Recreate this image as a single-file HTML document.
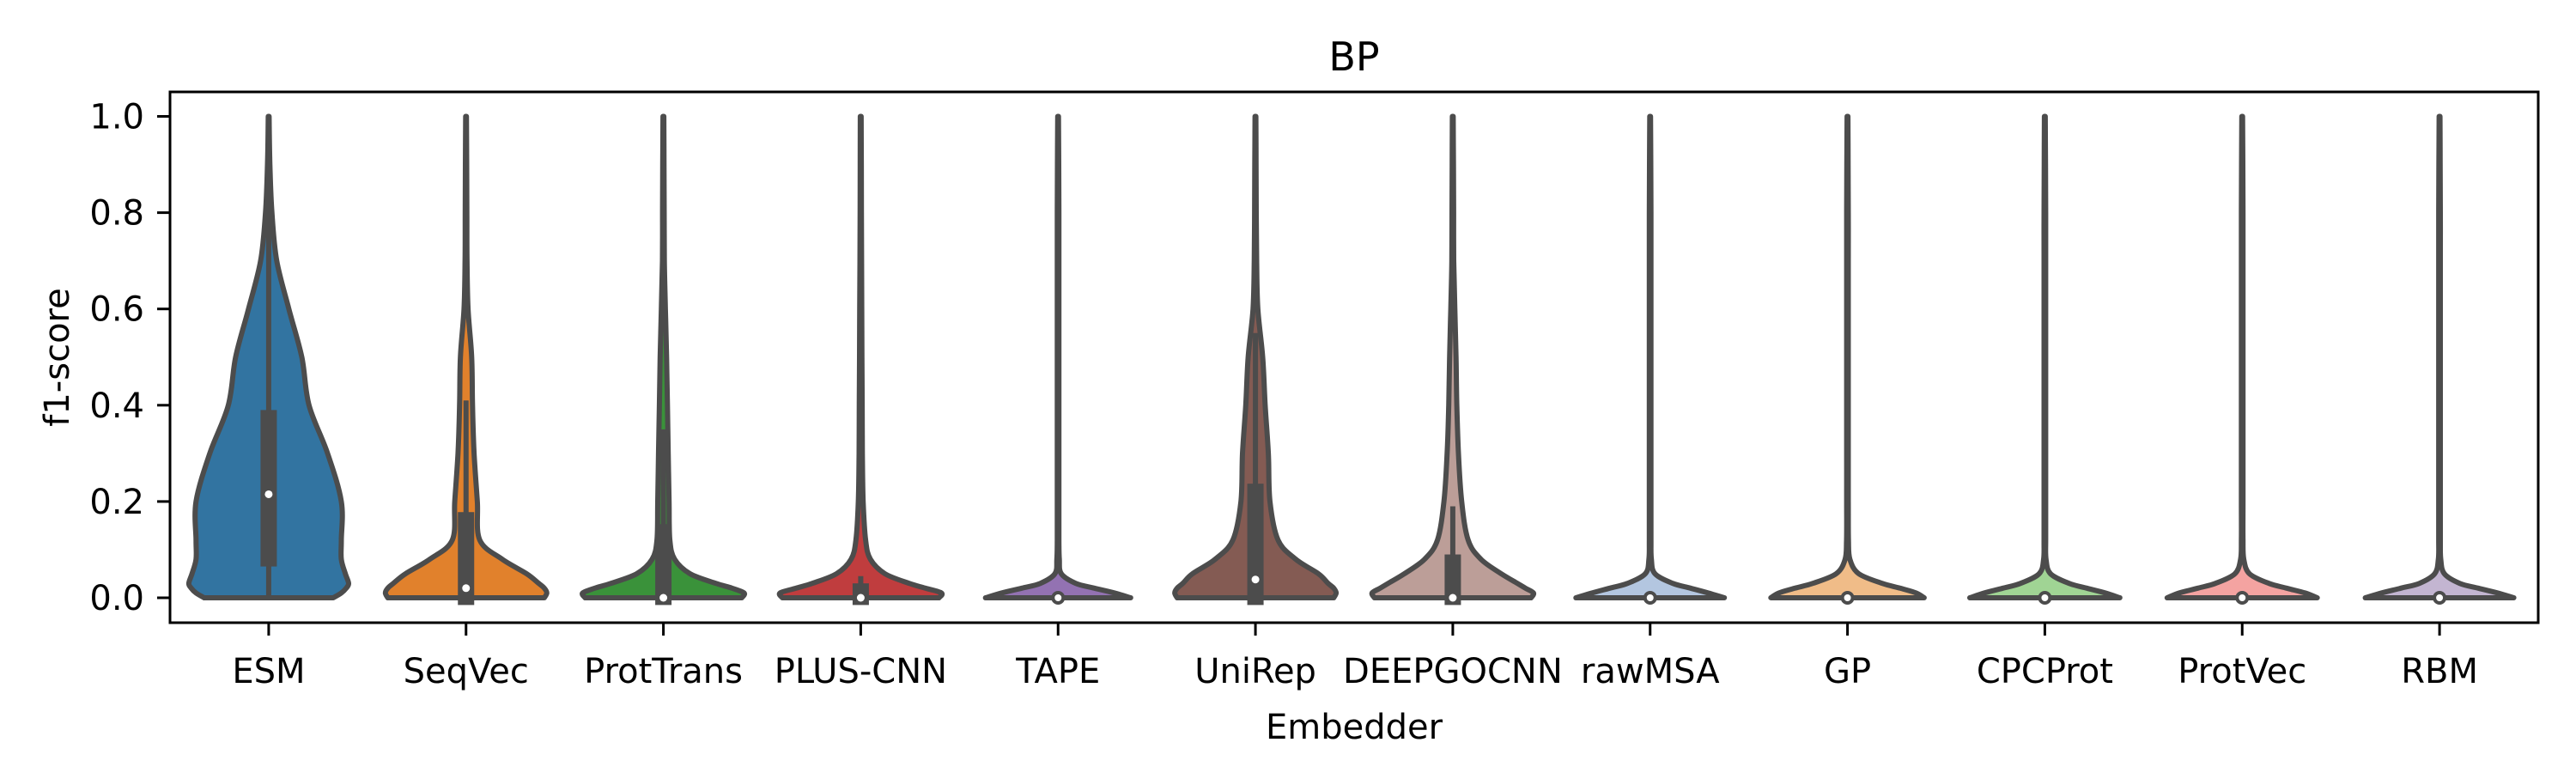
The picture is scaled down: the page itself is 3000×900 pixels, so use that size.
<!DOCTYPE html>
<html><head><meta charset="utf-8">
<style>
html,body{margin:0;padding:0;background:#fff;}
svg{display:block;}
text{font-family:"DejaVu Sans","Liberation Sans",sans-serif;fill:#000;}
</style></head>
<body>
<svg id="chart" width="3000" height="900" viewBox="0 0 3000 900" xmlns="http://www.w3.org/2000/svg">
  <rect x="0" y="0" width="3000" height="900" fill="#fff"/>
  <g id="plot"></g>
  <rect x="198" y="107" width="2758" height="618" fill="none" stroke="#000" stroke-width="3"/>
  <g id="xaxis"></g>
  <g id="yaxis"></g>
  <text x="1577" y="82" font-size="46" text-anchor="middle">BP</text>
  <text x="1577" y="860" font-size="40" text-anchor="middle">Embedder</text>
  <text transform="translate(80,416) rotate(-90)" font-size="40" text-anchor="middle">f1-score</text>
</svg>
<script>
const categories = ["ESM","SeqVec","ProtTrans","PLUS-CNN","TAPE","UniRep","DEEPGOCNN","rawMSA","GP","CPCProt","ProtVec","RBM"];
const colors = ["#3274a1","#e1812c","#3a923a","#c03d3e","#9372b2","#845b53","#bc9e98","#b3c6e0","#f0bc88","#a0d494","#f4a3a1","#c3b5d1"];
const yTicks = [0,0.2,0.4,0.6,0.8,1.0];
const yTickLabels = ["0.0","0.2","0.4","0.6","0.8","1.0"];
const densityY = [0,0.01,0.02,0.03,0.05,0.08,0.12,0.2,0.3,0.4,0.5,0.6,0.7,0.8,0.9,1.0];
const densESM = [0.8,0.9,0.96,0.99,0.95,0.9,0.9,0.9,0.73,0.5,0.41,0.25,0.1,0.04,0.015,0.005];
const densSeqVec = [0.97,1.0,0.97,0.9,0.75,0.45,0.17,0.14,0.1,0.08,0.07,0.025,0.012,0.01,0.008,0.005];
const densProtTrans = [0.97,1.0,0.85,0.65,0.33,0.14,0.08,0.07,0.06,0.05,0.04,0.025,0.012,0.01,0.008,0.005];
const densPlusCNN = [0.97,1.0,0.8,0.6,0.3,0.12,0.06,0.03,0.02,0.018,0.015,0.013,0.01,0.008,0.007,0.005];
const densTAPE = [0.9,0.7,0.45,0.22,0.04,0.015,0.01,0.01,0.01,0.01,0.01,0.01,0.01,0.01,0.008,0.005];
const densUniRep = [0.97,1.0,0.97,0.9,0.78,0.5,0.28,0.18,0.16,0.12,0.09,0.03,0.015,0.01,0.008,0.005];
const densDeepGO = [0.97,1.0,0.9,0.8,0.6,0.35,0.19,0.11,0.07,0.05,0.04,0.025,0.012,0.01,0.008,0.005];
const densRawMSA = [0.92,0.72,0.5,0.28,0.06,0.015,0.01,0.01,0.01,0.01,0.01,0.01,0.01,0.01,0.008,0.005];
const densGP = [0.95,0.85,0.65,0.43,0.14,0.03,0.012,0.01,0.01,0.01,0.01,0.01,0.01,0.01,0.008,0.005];
const densCPCProt = [0.93,0.75,0.52,0.3,0.07,0.015,0.01,0.01,0.01,0.01,0.01,0.01,0.01,0.01,0.008,0.005];
const densProtVec = [0.93,0.78,0.55,0.33,0.09,0.02,0.01,0.01,0.01,0.01,0.01,0.01,0.01,0.01,0.008,0.005];
const densRBM = [0.92,0.72,0.48,0.25,0.06,0.015,0.01,0.01,0.01,0.01,0.01,0.01,0.01,0.01,0.008,0.005];
const q1Values = [0.065,-0.015,-0.015,-0.015,0,-0.015,-0.015,0,0,0,0,0];
const medianValues = [0.215,0.02,0,0,0,0.038,0,0,0,0,0,0];
const q3Values = [0.39,0.178,0.153,0.03,0,0.237,0.09,0,0,0,0,0];
const whiskerHigh = [1.0,0.41,0.35,0.045,0,0.55,0.19,0,0,0,0,0];
const whiskerLow = [0,0,0,0,0,0,0,0,0,0,0,0];

const densities = [densESM,densSeqVec,densProtTrans,densPlusCNN,densTAPE,densUniRep,densDeepGO,densRawMSA,densGP,densCPCProt,densProtVec,densRBM];
const NS = "http://www.w3.org/2000/svg";
const X0 = 198, X1 = 2956, Y0v = 696, Y1v = 135.5;
const band = (X1 - X0) / categories.length;
const maxHalf = 94;
function xScale(i){ return X0 + band * (i + 0.5); }
function yScale(v){ return Y0v + (Y1v - Y0v) * v; }
function mk(tag, attrs, parent){
  const e = document.createElementNS(NS, tag);
  for (const k in attrs) e.setAttribute(k, attrs[k]);
  parent.appendChild(e);
  return e;
}
function smoothPath(pts){
  let d = "";
  for (let i = 0; i < pts.length - 1; i++){
    const p0 = pts[Math.max(0,i-1)], p1 = pts[i], p2 = pts[i+1], p3 = pts[Math.min(pts.length-1,i+2)];
    const c1x = p1[0] + (p2[0]-p0[0])/6, c1y = p1[1] + (p2[1]-p0[1])/6;
    const c2x = p2[0] - (p3[0]-p1[0])/6, c2y = p2[1] - (p3[1]-p1[1])/6;
    d += " C" + c1x.toFixed(1) + "," + c1y.toFixed(1) + " " + c2x.toFixed(1) + "," + c2y.toFixed(1) + " " + p2[0].toFixed(1) + "," + p2[1].toFixed(1);
  }
  return d;
}
const plot = document.getElementById("plot");
categories.forEach((cat, i) => {
  const cx = xScale(i);
  const dens = densities[i];
  const g = mk("g", {}, plot);
  
  
  const right = densityY.map((y, k) => [cx + dens[k]*maxHalf, yScale(y)]);
  const left = densityY.map((y, k) => [cx - dens[k]*maxHalf, yScale(y)]).reverse();
  let d = "M" + right[0][0].toFixed(1) + "," + right[0][1].toFixed(1) + smoothPath(right);
  d += " L" + left[0][0].toFixed(1) + "," + left[0][1].toFixed(1) + smoothPath(left) + " Z";
  const body = mk("path", {d: d, fill: colors[i], stroke: "#4c4c4c", "stroke-width": 6, "stroke-linejoin": "round"}, g);
  
  
  if (whiskerHigh[i] > whiskerLow[i]) {
    const wl = mk("line", {x1: cx, x2: cx, y1: yScale(whiskerLow[i]), y2: yScale(whiskerHigh[i]), stroke: "#4c4c4c", "stroke-width": 6}, g);
    
    
  }
  if (q3Values[i] > q1Values[i]) {
    const bx = mk("rect", {x: cx - 9.5, y: yScale(q3Values[i]), width: 19, height: yScale(q1Values[i]) - yScale(q3Values[i]), fill: "#4c4c4c"}, g);
    
    
    const md = mk("circle", {cx: cx, cy: yScale(medianValues[i]), r: 4.5, fill: "#fff"}, g);
    
    
  } else {
    const md = mk("circle", {cx: cx, cy: yScale(medianValues[i]), r: 6, fill: "#fff", stroke: "#4c4c4c", "stroke-width": 4}, g);
    
    
  }
});
const xaxis = document.getElementById("xaxis");
categories.forEach((cat, i) => {
  const cx = xScale(i);
  const t = mk("line", {x1: cx, x2: cx, y1: 725, y2: 740, stroke: "#000", "stroke-width": 3}, xaxis);
  
  
  const l = mk("text", {x: cx, y: 795, "font-size": 40, "text-anchor": "middle"}, xaxis);
  l.textContent = cat;
  
  
});
const yaxis = document.getElementById("yaxis");
yTicks.forEach((v, k) => {
  const y = yScale(v);
  const t = mk("line", {x1: 183, x2: 198, y1: y, y2: y, stroke: "#000", "stroke-width": 3}, yaxis);
  
  
  const l = mk("text", {x: 168, y: y + 14, "font-size": 40, "text-anchor": "end"}, yaxis);
  l.textContent = yTickLabels[k];
  
  
});
</script>
</body></html>
